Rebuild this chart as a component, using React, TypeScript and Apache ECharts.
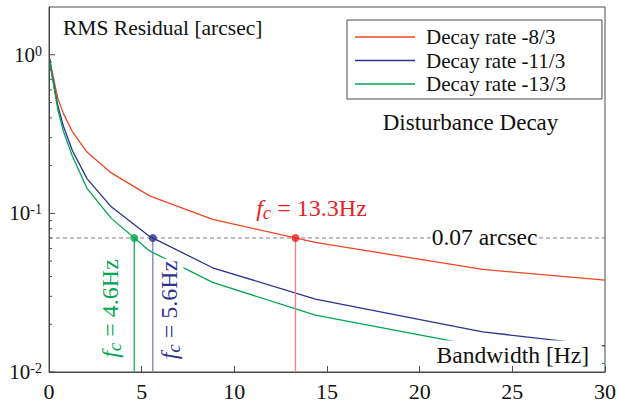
import React, { useEffect, useRef } from 'react';
import * as echarts from 'echarts';

// Closed-loop bandwidth [Hz] at which each curve is sampled
const bandwidth = [0.042, 0.068, 0.11, 0.18, 0.292, 0.476, 0.775, 1.26, 2.05, 3.36, 5.43, 8.83, 14.37, 23.4, 30];
// RMS residual [arcsec] per disturbance decay rate
const rmsDecay8 = [0.946, 0.913, 0.841, 0.773, 0.667, 0.531, 0.427, 0.328, 0.2435, 0.18, 0.129, 0.0917, 0.0656, 0.0443, 0.038];
const rmsDecay11 = [0.94, 0.9, 0.82, 0.74, 0.62, 0.48, 0.355, 0.249, 0.1657, 0.11, 0.0716, 0.0454, 0.0288, 0.0179, 0.0146];
const rmsDecay13 = [0.93, 0.89, 0.81, 0.72, 0.6, 0.45, 0.33, 0.2297, 0.1438, 0.093, 0.058, 0.0367, 0.0228, 0.0144, 0.0113];
const seriesNames = ['Decay rate -8/3', 'Decay rate -11/3', 'Decay rate -13/3'];
// Bandwidth needed to reach the requirement, per decay rate
const crossoverFreq = [13.3, 5.6, 4.6];
const crossoverText = ['13.3Hz', '5.6Hz', '4.6Hz'];
const requirement = 0.07;
const requirementText = '0.07 arcsec';
const xTickInterval = 5;

const SERIF = "'Liberation Serif', 'Times New Roman', serif";
const curveColors = ['#ef4623', '#2e3192', '#00a651'];
const dropColors = ['#f47f7f', '#7d7fc2', '#1fae64'];
const markColors = ['#ee1d23', '#2e3192', '#00a651'];

// Log-axis tick values: 1..9 x 10^k inside the axis range
const yTickValues: number[] = [];
for (let e = -2; e <= 0; e++) {
  for (let m = 1; m <= 9; m++) {
    const v = +(m * Math.pow(10, e)).toPrecision(6);
    if (v < 2) yTickValues.push(v);
  }
}

function isDecade(v: number) {
  const l = Math.log10(v);
  return Math.abs(l - Math.round(l)) < 1e-6;
}

export default function App() {
  const ref = useRef<HTMLDivElement>(null);

  useEffect(() => {
    if (!ref.current) return;
    const chart = echarts.init(ref.current, null, { renderer: 'svg' });
    const curves = [rmsDecay8, rmsDecay11, rmsDecay13];

    chart.setOption({
      animation: false,
      grid: {
        left: 49, right: 11, top: 7, bottom: 30,
        show: true, borderColor: '#4a4a4a', borderWidth: 1, backgroundColor: 'transparent',
      },
      legend: {
        data: seriesNames,
        orient: 'vertical',
        left: 347,
        top: 20,
        padding: [6.5, 36, 4.5, 8],
        icon: 'rect',
        itemWidth: 60,
        itemHeight: 1.4,
        itemGap: 2.5,
        backgroundColor: '#fff',
        borderColor: '#4a4a4a',
        borderWidth: 1,
        borderRadius: 0,
        textStyle: { fontFamily: SERIF, fontSize: 21, color: '#111', padding: [0, 0, 0, 6] },
      },
      xAxis: {
        type: 'value',
        min: 0,
        max: 30,
        interval: xTickInterval,
        axisLine: { lineStyle: { color: '#4a4a4a', width: 1 } },
        axisTick: { inside: true, length: 6, lineStyle: { color: '#4a4a4a' } },
        axisLabel: { fontFamily: SERIF, fontSize: 22, color: '#111', margin: 8 },
        splitLine: { show: false },
      },
      yAxis: {
        type: 'log',
        logBase: 10,
        min: 0.01,
        max: 2,
        axisLine: { lineStyle: { color: '#4a4a4a', width: 1 } },
        axisTick: { show: false },
        splitLine: { show: false },
        axisLabel: {
          margin: 7,
          formatter: (v: number) => (isDecade(v) ? `{b|10}{s|${Math.round(Math.log10(v))}}` : ''),
          rich: {
            b: { fontFamily: SERIF, fontSize: 21, lineHeight: 21, padding: [5, 0, 0, 0], verticalAlign: 'bottom', color: '#111' },
            s: { fontFamily: SERIF, fontSize: 14, lineHeight: 14, verticalAlign: 'top', color: '#111' },
          },
        },
      },
      series: [
        {
          type: 'line',
          name: 'requirement',
          data: [[0, requirement], [30, requirement]],
          symbol: 'none',
          silent: true,
          lineStyle: { color: '#808080', width: 1, type: [4, 3] },
          z: 2,
        },
        ...curves.map((vals, i) => ({
          type: 'line',
          name: seriesNames[i],
          data: bandwidth.map((f, j) => [f, vals[j]]),
          symbol: 'none',
          silent: true,
          lineStyle: { color: curveColors[i], width: 1.3 },
          itemStyle: { color: curveColors[i] },
          z: 3,
        })),
        ...crossoverFreq.map((fc, i) => ({
          type: 'line',
          name: 'drop' + i,
          data: [[fc, 0.01], [fc, requirement]],
          symbol: 'none',
          silent: true,
          lineStyle: { color: dropColors[i], width: 1.3 },
          z: 4,
        })),
        {
          type: 'scatter',
          name: 'crossover',
          symbolSize: 8,
          silent: true,
          z: 5,
          data: crossoverFreq.map((fc, i) => ({ value: [fc, requirement], itemStyle: { color: markColors[i] } })),
        },
        {
          type: 'custom',
          name: 'yticks',
          silent: true,
          clip: false,
          z: 6,
          data: yTickValues.map((v) => [0, v]),
          renderItem: (_p: any, api: any) => {
            const v = api.value(1);
            const pt = api.coord([0, v]);
            const len = isDecade(v) ? 6 : 3;
            return {
              type: 'line',
              shape: { x1: pt[0], y1: pt[1], x2: pt[0] + len, y2: pt[1] },
              style: { stroke: '#4a4a4a', lineWidth: 1 },
            };
          },
        },
      ],
    });

    const toPx = (x: number, y: number) => chart.convertToPixel({ gridIndex: 0 }, [x, y]) as number[];
    const reqY = toPx(0, requirement)[1];
    const bottomY = toPx(0, 0.01)[1];
    const fcX = crossoverFreq.map((fc) => toPx(fc, requirement)[0]);

    const fcRich = (color: string) => ({
      f: { fontFamily: SERIF, fontStyle: 'italic', fontSize: 24, lineHeight: 28, verticalAlign: 'middle', fill: color },
      c: { fontFamily: SERIF, fontStyle: 'italic', fontSize: 19, lineHeight: 22, verticalAlign: 'bottom', fill: color },
      t: { fontFamily: SERIF, fontSize: 24, lineHeight: 28, verticalAlign: 'middle', fill: color },
    });
    const fcText = (i: number) => `{f|f}{c|c}{t| = ${crossoverText[i]}}`;
    const labelPos = toPx(23.5, requirement);

    chart.setOption({
      graphic: [
        {
          type: 'text', z: 20, x: 63, y: 27.7,
          style: { text: 'RMS Residual [arcsec]', fontFamily: SERIF, fontSize: 21.5, fill: '#111', align: 'left', verticalAlign: 'middle' },
        },
        {
          type: 'text', z: 20, x: 470.5, y: 122.2,
          style: { text: 'Disturbance Decay', fontFamily: SERIF, fontSize: 23, fill: '#111', align: 'center', verticalAlign: 'middle' },
        },
        {
          type: 'text', z: 20, x: labelPos[0], y: labelPos[1] - 0.5,
          style: {
            text: requirementText, fontFamily: SERIF, fontSize: 23.5, fill: '#111', align: 'center', verticalAlign: 'middle',
            backgroundColor: '#fff', padding: [0, 1],
          },
        },
        {
          type: 'rect', z: 19, shape: { x: 430, y: 340.5, width: 172, height: 25.5 },
          style: { fill: '#fff' },
        },
        {
          type: 'text', z: 20, x: 436.5, y: 355.3,
          style: { text: 'Bandwidth [Hz]', fontFamily: SERIF, fontSize: 23.6, fill: '#111', align: 'left', verticalAlign: 'middle' },
        },
        {
          type: 'text', z: 20, x: fcX[0] + 16, y: reqY - 29.6,
          style: { text: fcText(0), rich: fcRich(markColors[0]), align: 'center', verticalAlign: 'middle' },
        },
        {
          type: 'text', z: 20, x: fcX[1] + 16.7, y: bottomY - 62, rotation: Math.PI / 2,
          style: {
            text: fcText(1), rich: fcRich(markColors[1]), align: 'center', verticalAlign: 'middle',
            backgroundColor: '#fff', padding: [0, 2],
          },
        },
        {
          type: 'text', z: 20, x: fcX[2] - 24.7, y: bottomY - 63.5, rotation: Math.PI / 2,
          style: { text: fcText(2), rich: fcRich(markColors[2]), align: 'center', verticalAlign: 'middle' },
        },
      ],
    });

    return () => chart.dispose();
  }, []);

  return <div ref={ref} style={{ position: 'absolute', left: 0, top: 0, width: 619, height: 402 }} />;
}
